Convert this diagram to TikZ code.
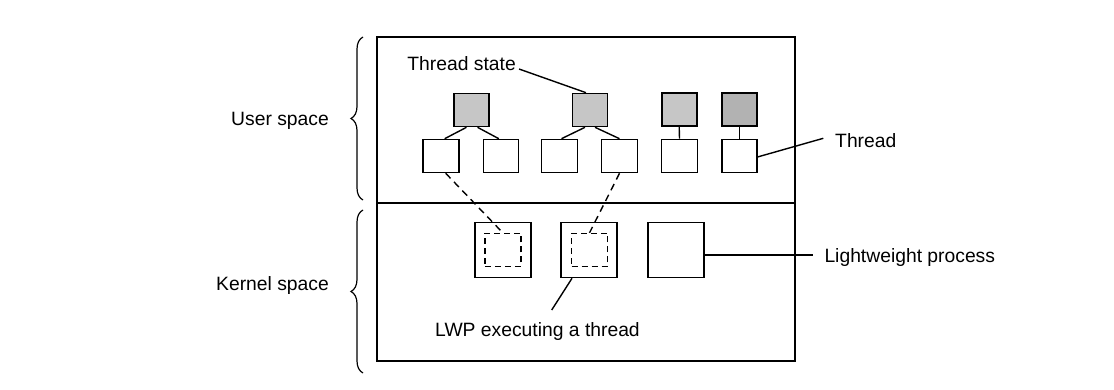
\documentclass[tikz,border=0pt]{standalone}
\usepackage{fontspec}
\setmainfont{Liberation Sans}
\usetikzlibrary{calc,decorations.pathreplacing}
\begin{document}
\begin{tikzpicture}[x=1pt,y=-1pt,
  every node/.style={font=\fontsize{19.3}{23}\selectfont},
  box/.style={draw, line width=1.6pt, inner sep=0pt, minimum width=35pt, minimum height=33pt},
  state/.style={box, fill=gray!45},
  darkstate/.style={box, fill=gray!60},
  lwp/.style={draw, line width=1.6pt, inner sep=0pt, minimum width=56pt, minimum height=55pt},
  inner/.style={draw, line width=1.4pt, dash pattern=on 6pt off 4pt, inner sep=0pt, minimum width=36pt, minimum height=33pt},
  conn/.style={line width=1.4pt},
  dconn/.style={line width=1.4pt, dash pattern=on 7pt off 5pt},
  lbl/.style={inner sep=0pt},
  br/.style={line width=1.2pt, decorate, decoration={brace, amplitude=12pt}}
]
\useasboundingbox (0,0) rectangle (1114,390);
% frame
\draw[line width=1.7pt] (377,37) rectangle (795,361);
\draw[line width=1.7pt] (377,203) -- (795,203);
% braces and side labels
\draw[br] (363,200) -- (363,37);
\draw[br] (363,373) -- (363,210);
\node[lbl, anchor=east] (us) at (329,121) {User space};
\node[lbl, anchor=east] (ks) at (329,286) {Kernel space};
% thread states
\node[state] (s1) at (471.5,110) {};
\node[state] (s2) at (590,110) {};
\node[state] (s3) at (679.2,109.5) {};
\node[darkstate] (s4) at (739.2,109.5) {};
% threads
\node[box, minimum width=36pt] (t1) at (440.7,156) {};
\node[box] (t2) at (500.8,156) {};
\node[box, minimum width=36pt] (t3) at (559.5,156) {};
\node[box, minimum width=36pt] (t4) at (619.5,156) {};
\node[box, minimum width=36pt] (t5) at (679.5,156) {};
\node[box] (t6) at (739.2,156) {};
% state-thread links
\draw[conn] ($(s1.south)+(-5,0)$) -- ($(t1.north)+(4,0)$);
\draw[conn] ($(s1.south)+(6,0)$) -- ($(t2.north)+(-2,0)$);
\draw[conn] ($(s2.south)+(-5,0)$) -- ($(t3.north)+(2,0)$);
\draw[conn] ($(s2.south)+(5,0)$) -- ($(t4.north)+(0,0)$);
\draw[conn] (s3.south) -- (t5.north);
\draw[conn] (s4.south) -- (t6.north);
% LWPs
\node[lwp] (l1) at (502.8,250) {};
\node[inner] (d1) at (502.8,250) {};
\node[lwp] (l2) at (588.8,250) {};
\node[inner] (d2) at (589.5,250) {};
\node[lwp] (l3) at (676,250) {};
% dashed links
\draw[dconn] ($(t1.south)+(5,0)$) -- (d1.north);
\draw[dconn] (t4.south) -- (d2.north);
% labels
\node[lbl, anchor=east] (ts) at (516,64) {Thread state};
\draw[conn] ($(ts.east)+(3,5)$) -- ($(s2.north)+(-4,0)$);
\node[lbl, anchor=west] (thr) at (835,141) {Thread};
\coordinate (thrc) at (823.3,138.3);
\draw[conn] ($(t6.east)+(0,1)$) -- (thrc);
\node[lbl, anchor=west] (lp) at (824.3,258) {Lightweight process};
\coordinate (lpc) at (813.3,255);
\draw[conn] ($(l3.east)+(0,5)$) -- (lpc);
\node[lbl, anchor=west] (lx) at (435,332) {LWP executing a thread};
\coordinate (lxc) at (551.7,310);
\draw[conn] ($(l2.south west)+(12,0)$) -- (lxc);
\end{tikzpicture}
\end{document}
